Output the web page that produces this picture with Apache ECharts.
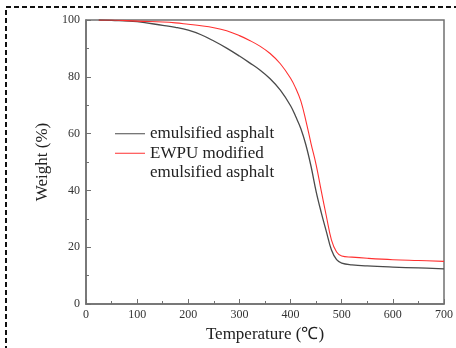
<!DOCTYPE html>
<html><head><meta charset="utf-8">
<script src="https://cdn.jsdelivr.net/npm/echarts@6/dist/echarts.min.js"></script>
<style>html,body{margin:0;padding:0;background:#fff}#c{width:456px;height:348px}</style>
</head><body><div id="c"></div>
<script>
const temps = [25, 50, 100, 150, 175, 200, 225, 250, 275, 300, 320, 340, 360, 380, 400, 410, 420, 430, 440, 450, 460, 470, 480, 490, 500, 520, 550, 600, 650, 700];
const weightAsphalt = [100, 99.9, 99.4, 98.1, 97.4, 96.4, 94.8, 92.6, 90.1, 87.3, 84.9, 82.4, 79.3, 75.3, 69.8, 66.0, 61.8, 56.0, 48.5, 39.6, 32.2, 25.5, 19.0, 15.6, 14.4, 13.8, 13.4, 13.0, 12.7, 12.4];
const weightEWPU = [100, 100, 99.6, 99.3, 99.0, 98.5, 98.0, 97.3, 96.2, 94.5, 92.8, 90.8, 88.2, 84.6, 79.5, 76.0, 71.5, 64.5, 56.5, 49.0, 39.8, 30.9, 22.5, 18.3, 16.9, 16.5, 16.1, 15.6, 15.3, 15.0];
const xTicks = [0, 100, 200, 300, 400, 500, 600, 700];
const yTicks = [0, 20, 40, 60, 80, 100];
const name1 = 'emulsified asphalt';
const name2 = 'EWPU modified emulsified asphalt';

const pairs = (xs, ys) => xs.map((x, i) => [x, ys[i]]);
const serif = 'Liberation Serif';
const axisCol = '#707070';

const chart = echarts.init(document.getElementById('c'));
chart.setOption({
  animation: false,
  backgroundColor: '#fff',
  grid: { left: 86, right: 9, top: 20, bottom: 42, show: true, borderColor: axisCol, borderWidth: 1.5 },
  legend: {
    orient: 'vertical', left: 110, top: 119, itemWidth: 30, itemHeight: 10, itemGap: -19.5,
    icon: 'path://M0,0L30,0L30,1L0,1Z',
    textStyle: { fontFamily: serif, fontSize: 17, color: '#222', lineHeight: 19.5 },
    formatter: n => n === name2 ? '\nEWPU modified\nemulsified asphalt' : n,
    data: [ name1, name2 ]
  },
  xAxis: {
    type: 'value', min: 0, max: 700, interval: 100,
    name: 'Temperature (℃)', nameLocation: 'middle', nameGap: 22,
    nameTextStyle: { fontFamily: serif, fontSize: 17, color: '#222' },
    axisLine: { show: true, lineStyle: { color: axisCol, width: 1.5 } },
    axisTick: { show: true, inside: true, length: 5, lineStyle: { color: axisCol } },
    minorTick: { show: true, splitNumber: 2, length: 3, lineStyle: { color: axisCol } },
    splitLine: { show: false },
    axisLabel: { fontFamily: serif, fontSize: 12, color: '#333', margin: 5,
      formatter: v => xTicks.includes(v) ? String(v) : '' }
  },
  yAxis: {
    type: 'value', min: 0, max: 100, interval: 20,
    name: 'Weight (%)', nameLocation: 'middle', nameGap: 30,
    nameTextStyle: { fontFamily: serif, fontSize: 17, color: '#222' },
    axisLine: { show: true, lineStyle: { color: axisCol, width: 1.5 } },
    axisTick: { show: true, inside: true, length: 5, lineStyle: { color: axisCol } },
    minorTick: { show: true, splitNumber: 2, length: 3, lineStyle: { color: axisCol } },
    splitLine: { show: false },
    axisLabel: { fontFamily: serif, fontSize: 12, color: '#333', margin: 6,
      formatter: v => yTicks.includes(v) ? String(v) : '' }
  },
  graphic: [{
    type: 'rect', silent: true, z: 100,
    shape: { x: 6, y: 7, width: 470, height: 370 },
    style: { fill: 'none', stroke: '#111', lineWidth: 2, lineDash: [5, 3] }
  }],
  series: [
    { name: name1, type: 'line', data: pairs(temps, weightAsphalt), showSymbol: false,
      smooth: 0.4, lineStyle: { color: '#4a4a4a', width: 1.3 }, itemStyle: { color: '#4a4a4a' } },
    { name: name2, type: 'line', data: pairs(temps, weightEWPU), showSymbol: false,
      smooth: 0.4, lineStyle: { color: '#ff3030', width: 1.1 }, itemStyle: { color: '#ff3030' } }
  ]
});
</script></body></html>
